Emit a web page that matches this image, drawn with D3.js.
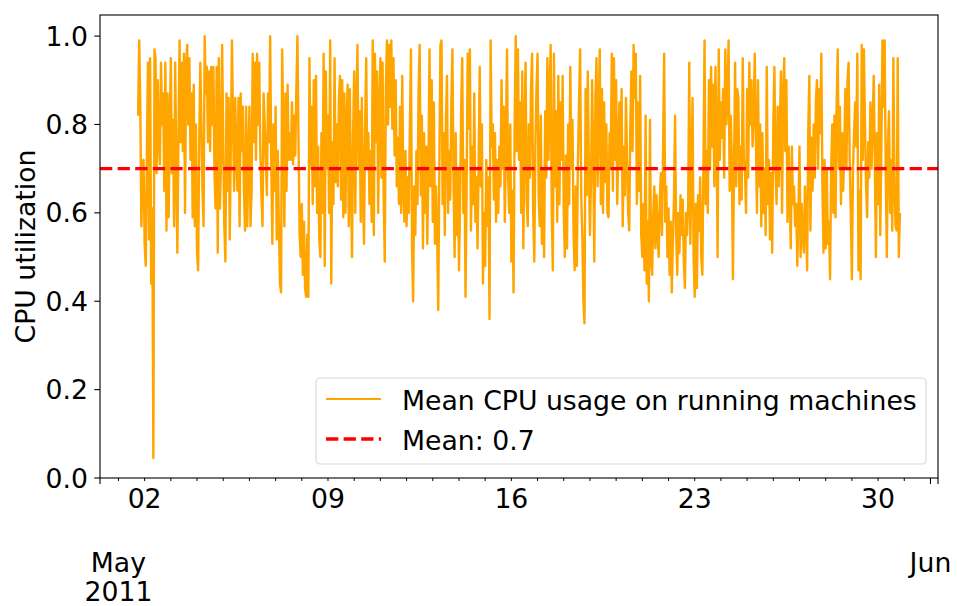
<!DOCTYPE html>
<html>
<head>
<meta charset="utf-8">
<script src="https://cdn.jsdelivr.net/npm/d3@7"></script>
<style>
body { margin: 0; background: #fff; }
text { font-family: "DejaVu Sans", sans-serif; fill: #000; }
</style>
</head>
<body>
<script>
// hourly mean CPU usage, first sample at 2011-05-01 18:00
const startTime = "2011-05-01 18:00";
const cpuUsage = [
  0.82,0.99,0.85,0.57,0.71,0.72,0.53,0.48,0.72,0.94,0.54,0.95,0.44,0.61,0.045,0.97,0.95,0.69,0.90,0.76,0.71,0.94,0.80,0.87,
  0.65,0.94,0.56,0.87,0.59,0.80,0.95,0.69,0.81,0.57,0.94,0.69,0.51,0.78,0.99,0.76,0.94,0.74,0.96,0.60,0.93,0.98,0.80,0.95,
  0.72,0.87,0.59,0.89,0.57,0.80,0.51,0.47,0.76,0.94,0.80,0.65,0.57,1.00,0.87,0.93,0.76,0.92,0.74,0.93,0.80,0.93,0.69,0.61,
  0.93,0.51,0.95,0.61,0.72,0.98,0.76,0.57,0.49,0.87,0.65,0.86,0.54,0.76,0.99,0.80,0.65,0.86,0.72,0.65,0.86,0.57,0.87,0.74,
  0.84,0.65,0.56,0.84,0.57,0.72,0.84,0.57,0.65,0.96,0.76,0.94,0.72,0.96,0.80,0.94,0.74,0.64,0.57,0.87,0.80,0.72,0.64,0.87,
  0.76,1.00,0.72,0.53,0.80,0.65,0.84,0.54,0.74,0.57,0.44,0.42,0.97,0.80,0.57,0.87,0.65,0.89,0.72,
  0.78,0.72,0.85,0.71,0.82,0.73,0.88,1.00,0.76,0.55,0.50,0.62,0.46,0.58,0.43,0.41,0.55,0.41,0.95,0.70,0.84,0.62,0.90,0.66,
  0.91,0.60,0.75,0.54,0.50,0.78,0.60,0.96,0.48,0.92,0.70,0.82,0.60,0.99,0.44,0.76,0.62,0.95,0.67,0.80,0.66,0.86,0.91,0.63,
  0.90,0.59,0.87,0.60,0.80,0.89,0.57,0.88,0.66,0.50,0.78,0.92,0.60,0.84,0.98,0.70,0.83,0.58,0.86,0.64,0.53,0.80,0.95,0.70,
  0.78,0.62,0.74,0.58,0.99,0.55,0.96,0.76,0.92,0.60,0.83,0.95,0.68,0.94,0.64,0.49,0.88,0.99,0.80,0.98,0.84,0.99,0.79,0.95,
  0.73,0.90,0.66,0.77,0.62,0.84,0.60,0.91,0.66,0.58,0.74,0.57,0.68,0.60,0.79,0.97,0.52,0.40,0.66,0.55,0.74,0.62,0.88,0.98,
  0.64,0.82,0.52,0.78,0.60,0.75,0.53,0.70,0.97,0.66,0.90,0.58,0.85,0.53,0.66,0.55,0.38,0.70,0.98,
  0.99,0.62,0.78,0.55,0.80,0.91,0.60,0.74,0.63,0.85,0.97,0.68,0.50,0.78,0.55,0.70,0.47,0.62,0.84,0.95,0.60,0.72,0.41,0.66,
  0.96,0.79,0.97,0.56,0.75,0.62,0.87,0.58,0.68,0.52,0.71,0.93,0.66,0.80,0.44,0.60,0.48,0.72,0.57,0.68,0.36,0.99,0.75,0.80,
  0.63,0.78,0.58,0.72,0.60,0.75,0.66,0.90,0.70,0.84,0.58,0.77,0.97,0.68,0.60,0.80,0.49,0.65,0.42,0.80,1.00,0.74,0.97,0.72,
  0.85,0.60,0.92,0.52,0.78,0.94,0.63,0.57,0.80,0.68,0.88,0.96,0.60,0.49,0.75,0.88,0.96,0.64,0.57,0.82,0.53,0.70,0.50,0.83,
  0.68,0.95,0.72,0.87,0.98,0.60,0.47,0.96,0.66,0.83,0.58,0.91,0.62,0.85,0.72,0.91,0.60,0.50,0.73,0.52,0.80,0.62,0.93,0.70,
  0.81,0.55,0.47,0.66,0.48,0.72,0.85,0.97,0.64,0.55,0.40,0.35,0.88,0.64,0.92,0.70,0.55,0.68,0.90,
  0.72,0.49,0.86,0.95,0.66,0.82,0.97,0.62,0.88,0.60,0.85,0.67,0.80,0.60,0.59,0.78,0.70,0.96,0.65,0.95,0.72,0.90,0.62,0.75,
  0.85,0.70,0.88,0.57,0.75,0.64,0.86,0.72,0.60,0.56,0.80,0.92,0.74,0.98,0.86,0.96,0.62,0.85,0.65,0.91,0.55,0.50,0.62,0.47,
  0.82,0.44,0.58,0.40,0.81,0.50,0.46,0.60,0.66,0.52,0.64,0.55,0.50,0.63,0.69,0.55,0.74,0.96,0.58,0.66,0.50,0.61,0.46,0.58,
  0.42,0.54,0.63,0.82,0.55,0.46,0.60,0.51,0.64,0.55,0.63,0.49,0.43,0.60,0.55,0.62,0.94,0.53,0.70,0.86,0.50,0.41,0.62,0.43,
  0.64,0.56,0.68,0.50,0.46,0.71,0.99,0.62,0.74,0.60,0.90,0.70,0.93,0.75,0.89,0.66,0.93,0.78,0.50,0.97,0.72,0.85,0.77,0.88,
  0.68,0.97,0.80,0.87,0.99,0.65,0.82,0.72,0.45,0.70,0.94,0.66,0.88,0.86,0.62,0.75,0.63,0.95,0.72,
  0.70,0.60,0.88,0.68,0.94,0.80,0.90,0.75,0.82,0.96,0.78,0.60,0.90,0.66,0.80,0.57,0.78,0.60,0.70,0.55,0.93,0.62,0.72,0.54,
  0.69,0.51,0.80,0.93,0.70,0.62,0.84,0.66,0.80,0.92,0.60,0.86,0.95,0.74,0.90,0.58,0.75,0.64,0.52,0.75,0.62,0.66,0.57,0.62,
  0.48,0.60,0.75,0.50,0.62,0.55,0.51,0.66,0.58,0.47,0.78,0.91,0.56,0.77,0.65,0.80,0.68,0.85,0.90,0.70,0.88,0.78,0.96,0.66,
  0.51,0.72,0.52,0.70,0.53,0.58,0.45,0.70,0.80,0.60,0.82,0.59,0.84,0.97,0.70,0.84,0.62,0.78,0.65,0.74,0.88,0.70,0.90,0.94,
  0.72,0.60,0.45,0.70,0.78,0.85,0.75,0.96,0.47,0.65,0.45,0.98,0.72,0.97,0.80,0.66,0.59,0.76,0.68,0.85,0.70,0.80,0.91,0.72,
  0.50,0.78,0.62,0.89,0.55,0.75,0.99,0.84,0.99,0.70,0.50,0.75,0.83,0.60,0.72,0.56,0.95,0.66,0.57,0.56,0.95,0.50,0.60
];
const meanValue = 0.7;
const yTicks = [0, 0.2, 0.4, 0.6, 0.8, 1.0];
const dayTicks = ["2011-05-02", "2011-05-09", "2011-05-16", "2011-05-23", "2011-05-30"];
const monthTicks = [
  { date: "2011-05-01", lines: ["May", "2011"] },
  { date: "2011-06-01", lines: ["Jun"] }
];
const legendLabels = ["Mean CPU usage on running machines", "Mean: " + meanValue];

const W = 957, H = 606;
const plot = { left: 100, right: 938, top: 15, bottom: 478 };
const fontSize = "26.7px";

const parseHour = d3.timeParse("%Y-%m-%d %H:%M");
const parseDay = d3.timeParse("%Y-%m-%d");
const t0 = parseHour(startTime);
const series = cpuUsage.map((v, i) => ({ t: d3.timeHour.offset(t0, i), v }));

const svg = d3.select("body").append("svg")
  .attr("width", W)
  .attr("height", H);

// matplotlib-style 5% margins on x, y starts at 0
const [tMin, tMax] = d3.extent(series, d => d.t);
const pad = (tMax - tMin) * 0.05;
const x = d3.scaleTime()
  .domain([new Date(+tMin - pad), new Date(+tMax + pad)])
  .range([plot.left, plot.right]);
const [vMin, vMax] = d3.extent(cpuUsage);
const y = d3.scaleLinear()
  .domain([0, vMax + (vMax - vMin) * 0.05])
  .range([plot.bottom, plot.top]);

svg.append("clipPath").attr("id", "clip")
  .append("rect")
  .attr("x", plot.left).attr("y", plot.top)
  .attr("width", plot.right - plot.left)
  .attr("height", plot.bottom - plot.top);

const inner = svg.append("g").attr("clip-path", "url(#clip)");

inner.append("path")
  .datum(series)
  .attr("fill", "none")
  .attr("stroke", "#ffa500")
  .attr("stroke-width", 2.4)
  .attr("stroke-linejoin", "round")
  .attr("d", d3.line().x(d => x(d.t)).y(d => y(d.v)));

inner.append("line")
  .attr("x1", plot.left).attr("x2", plot.right)
  .attr("y1", y(meanValue)).attr("y2", y(meanValue))
  .attr("stroke", "#ff0000")
  .attr("stroke-width", 3.3)
  .attr("stroke-dasharray", "12.3,5.3");

// frame
svg.append("rect")
  .attr("x", plot.left).attr("y", plot.top)
  .attr("width", plot.right - plot.left)
  .attr("height", plot.bottom - plot.top)
  .attr("fill", "none")
  .attr("stroke", "#000")
  .attr("stroke-width", 1.1);

// y axis
const yAxis = svg.append("g");
yTicks.forEach(v => {
  yAxis.append("line")
    .attr("x1", plot.left - 5.7).attr("x2", plot.left)
    .attr("y1", y(v)).attr("y2", y(v))
    .attr("stroke", "#000").attr("stroke-width", 1.1);
  yAxis.append("text")
    .attr("x", plot.left - 12)
    .attr("y", y(v))
    .attr("dy", "0.36em")
    .attr("text-anchor", "end")
    .style("font-size", fontSize)
    .text(d3.format(".1f")(v));
});

svg.append("text")
  .attr("transform", `translate(35, ${(plot.top + plot.bottom) / 2}) rotate(-90)`)
  .attr("text-anchor", "middle")
  .style("font-size", fontSize)
  .text("CPU utilization");

// x axis: daily minor ticks, long ticks at the edges and at June 1
const xAxis = svg.append("g");
const minorDays = d3.timeDay.range(parseDay("2011-05-01"), parseDay("2011-06-01"));
minorDays.forEach(d => {
  xAxis.append("line")
    .attr("x1", x(d)).attr("x2", x(d))
    .attr("y1", plot.bottom).attr("y2", plot.bottom + 3)
    .attr("stroke", "#000").attr("stroke-width", 1);
});
const majorTicks = [x.domain()[0], parseDay("2011-06-01"), x.domain()[1]];
majorTicks.forEach(d => {
  xAxis.append("line")
    .attr("x1", x(d)).attr("x2", x(d))
    .attr("y1", plot.bottom).attr("y2", plot.bottom + 6)
    .attr("stroke", "#000").attr("stroke-width", 1.1);
});

dayTicks.forEach(s => {
  const d = parseDay(s);
  xAxis.append("text")
    .attr("x", x(d))
    .attr("y", 508)
    .attr("text-anchor", "middle")
    .style("font-size", fontSize)
    .text(d3.timeFormat("%d")(d));
});

monthTicks.forEach(m => {
  const t = xAxis.append("text")
    .attr("x", x(parseDay(m.date)))
    .attr("y", 572)
    .attr("text-anchor", "middle")
    .style("font-size", fontSize);
  t.selectAll("tspan")
    .data(m.lines)
    .join("tspan")
    .attr("x", x(parseDay(m.date)))
    .attr("dy", (d, i) => i === 0 ? 0 : 29)
    .text(d => d);
});

// legend
const legend = svg.append("g");
legend.append("rect")
  .attr("x", 316).attr("y", 378)
  .attr("width", 610).attr("height", 86)
  .attr("rx", 4).attr("ry", 4)
  .attr("fill", "#fff")
  .attr("fill-opacity", 0.8)
  .attr("stroke", "#d6d6d6")
  .attr("stroke-width", 1.1);

const legendStyles = [
  { color: "#ffa500", width: 2, dash: null },
  { color: "#ff0000", width: 3.3, dash: "12.3,5.3" }
];
legendLabels.forEach((label, i) => {
  const cy = 399 + i * 40;
  legend.append("line")
    .attr("x1", 326).attr("x2", 381)
    .attr("y1", cy).attr("y2", cy)
    .attr("stroke", legendStyles[i].color)
    .attr("stroke-width", legendStyles[i].width)
    .attr("stroke-dasharray", legendStyles[i].dash);
  legend.append("text")
    .attr("x", 402)
    .attr("y", cy + 11)
    .style("font-size", fontSize)
    .text(label);
});
</script>
</body>
</html>
